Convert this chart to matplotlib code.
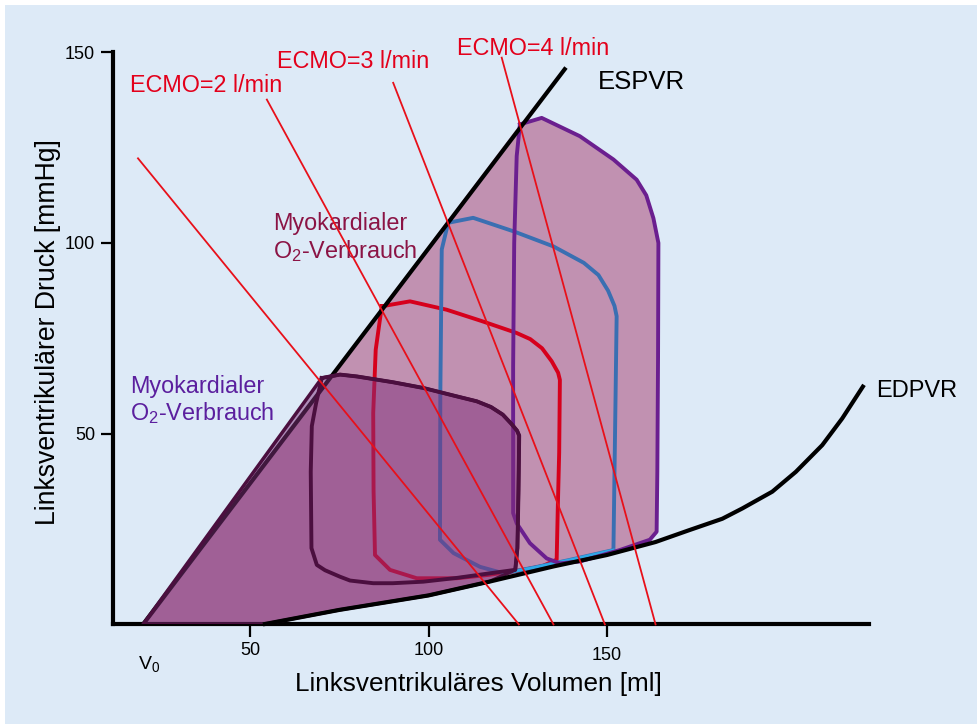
import numpy as np
import matplotlib
matplotlib.use('Agg')
import matplotlib.pyplot as plt
from matplotlib.patches import Polygon, Rectangle

plt.rcParams['font.family'] = ['Liberation Sans', 'DejaVu Sans']
plt.rcParams['mathtext.fontset'] = 'custom'
plt.rcParams['mathtext.rm'] = 'Liberation Sans'
plt.rcParams['mathtext.it'] = 'Liberation Sans:italic'

# ---------------- data ----------------
v0 = 20
espvr_v = [20, 138.5]
espvr_p = [0, 146]

edpvr_v = [53.6, 75, 100, 117, 135, 150, 163.6, 173, 182.3, 187.9, 196.3, 202.9, 210.3, 215.9, 222]
edpvr_p = [0, 3.8, 7.6, 11.2, 15.2, 18.2, 21.6, 24.7, 27.7, 30.4, 34.8, 40, 47, 54, 62.8]

dark_v = [70.1, 75.2, 80, 90, 98.5, 107, 113.5, 117.5, 120.8, 123.2, 124.8, 125.4, 125.2, 124.9, 124.3,
          117.2, 108, 98.5, 90, 84.5, 78, 75.2, 71, 68.7, 67.2, 67, 67.3, 68.5, 70.1]
dark_p = [64.6, 65.5, 65, 63.5, 62, 60, 58.5, 57.0, 55.0, 52.6, 50.8, 49.5, 35, 20, 14.3,
          13.4, 12.2, 11.2, 10.8, 10.8, 11.5, 12.5, 14.2, 15.6, 20, 40, 52, 58, 64.6]

red_v = [86.9, 94.8, 105.1, 115, 124.7, 128.5, 131.8, 134.5, 136.3, 136.8, 136.6, 136.2, 135.9, 132, 126.6,
         117, 107.9, 96.7, 89.2, 85, 84.6, 84.5, 85.2, 86.9]
red_p = [83.4, 84.7, 82.5, 79.5, 76.4, 74.8, 72.4, 69.0, 66.0, 64.1, 45, 30, 17, 15.3, 14.3,
         13, 12.1, 12.1, 14.3, 18.2, 35, 55.4, 72, 83.4]

blue_v = [105.5, 112.5, 124, 135, 143.5, 147.6, 150.3, 152.1, 152.7, 152.4, 152.1, 151.8, 140, 130, 121,
          114.4, 107, 103.2, 103.3, 103.7, 105.5]
blue_p = [105.3, 106.6, 103, 99.1, 94.8, 91.6, 87.5, 83.5, 80.8, 60, 40, 19.5, 17, 15, 13.4,
          15.1, 18.7, 22.2, 60, 98.3, 105.3]

purple_v = [125.6, 131.7, 142.4, 151.8, 158.3, 161.0, 163.0, 164.4, 164.3, 164.1, 163.9, 162, 153.6,
            142.4, 136.8, 133.1, 128.4, 124.7, 123.7, 123.7, 124.0, 124.7, 125.6]
purple_p = [131.1, 132.8, 128, 121.9, 116.6, 112.5, 106.5, 100, 70, 40, 24.3, 22.2, 19.5,
            16.5, 16, 17.3, 21.3, 26.5, 29.2, 67.6, 100, 122.8, 131.1]
purple_corner_end = 11  # index where the loop meets the EDPVR

ecmo_top_v = [18.6, 54.7, 90.1, 120.5]
ecmo_top_p = [122.2, 137.6, 142, 148.6]
ecmo_bottom_v = [125.3, 135, 149.4, 163.6]

ecmo_labels = ["ECMO=2 l/min", "ECMO=3 l/min", "ECMO=4 l/min"]
ecmo_label_v = [16.4, 57.6, 108]
ecmo_label_p = [139.6, 146, 149.4]

xticks = [50, 100, 150]
yticks = [50, 100, 150]

# ---------------- figure ----------------
W, H = 978, 724
fig = plt.figure(figsize=(W / 100, H / 100), dpi=100, facecolor='white')
bg = Rectangle((5 / W, 0), 1, 1 - 5 / H, transform=fig.transFigure,
               facecolor='#ddeaf7', edgecolor='none', zorder=-10)
fig.patches.append(bg)
ax = fig.add_axes([113 / W, 1 - 624.4 / H, (869 - 113) / W, (624.4 - 52.3) / H])
ax.set_zorder(1)
ax.set_facecolor('none')
ax.set_xlim(11.6, 223.4)
ax.set_ylim(0, 150)

# light fill (PVA of largest loop)
ed_v = np.array(edpvr_v)
ed_p = np.array(edpvr_p)
k = purple_corner_end
light_pts = [(v0, 0)] + list(zip(purple_v[:k + 1], purple_p[:k + 1]))
mask = ed_v < purple_v[k]
light_pts += list(zip(ed_v[mask][::-1], ed_p[mask][::-1]))
ax.add_patch(Polygon(light_pts, closed=True, facecolor='#c191b1', edgecolor='none', zorder=1))

# ESPVR line
ax.plot(espvr_v, espvr_p, color='black', lw=3, zorder=2.5, solid_capstyle='butt')

# loops
ax.plot(red_v, red_p, color='#d6001c', lw=2.8, zorder=2, solid_joinstyle='round')
ax.plot(blue_v, blue_p, color='#3a6fb2', lw=2.8, zorder=2, solid_joinstyle='round')
ax.plot(blue_v[11:15], blue_p[11:15], color='#2fa8e6', lw=2.0, zorder=2.1)
ax.plot(purple_v, purple_p, color='#6b1f8f', lw=2.8, zorder=2.2, solid_joinstyle='round')

# dark fill (PVA of smallest loop)
dark_pts = [(v0, 0)] + list(zip(dark_v[:15], dark_p[:15]))
mask = ed_v < dark_v[14]
dark_pts += list(zip(ed_v[mask][::-1], ed_p[mask][::-1]))
ax.add_patch(Polygon(dark_pts, closed=True, facecolor=(0.50, 0.19, 0.49, 0.5),
                     edgecolor='#4b0f3f', lw=2.5, zorder=3, joinstyle='round'))
ax.plot(dark_v, dark_p, color='#4b0f3f', lw=2.8, zorder=4, solid_joinstyle='round')

# EDPVR
ax.plot(edpvr_v, edpvr_p, color='black', lw=3, zorder=4, solid_capstyle='butt',
        solid_joinstyle='round', clip_on=False)

# ECMO lines
for tv, tp, bv in zip(ecmo_top_v, ecmo_top_p, ecmo_bottom_v):
    ax.plot([tv, bv], [tp, 0], color='#e8101a', lw=1.3, zorder=5, clip_on=False)

# labels
for lab, lv, lp in zip(ecmo_labels, ecmo_label_v, ecmo_label_p):
    ax.text(lv, lp, lab, color='#e3001b', fontsize=16.8, ha='left', va='baseline', clip_on=False)
ax.text(147.5, 140.4, "ESPVR", color='black', fontsize=18.5, ha='left', va='baseline')
ax.text(225.3, 59.7, "EDPVR", color='black', fontsize=17, ha='left', va='baseline', clip_on=False)
ax.text(56.4, 103.5, "Myokardialer", color='#8b1445', fontsize=16.8, ha='left', va='baseline')
ax.text(56.4, 96.1, r"O$_\mathrm{2}$-Verbrauch", color='#8b1445', fontsize=16.8, ha='left', va='baseline')
ax.text(16.4, 60.8, "Myokardialer", color='#5b1f9e', fontsize=16.8, ha='left', va='baseline')
ax.text(16.4, 53.6, r"O$_\mathrm{2}$-Verbrauch", color='#5b1f9e', fontsize=16.8, ha='left', va='baseline')
ax.text(18.6, -11.6, r"V$_\mathrm{0}$", color='black', fontsize=14, ha='left', va='baseline', clip_on=False)

# axes styling
for s in ['top', 'right']:
    ax.spines[s].set_visible(False)
for s in ['left', 'bottom']:
    ax.spines[s].set_linewidth(3)
    ax.spines[s].set_capstyle('projecting')
ax.set_xticks(xticks)
ax.set_yticks(yticks)
ax.tick_params(axis='both', length=9, width=1.6, direction='out', labelsize=13, pad=4)
ax.xaxis.get_major_ticks()[2].set_pad(7)

fig.text(478 / W, 1 - 684 / H, "Linksventrikuläres Volumen [ml]", fontsize=18.8,
         ha='center', va='center')
fig.text(48 / W, 1 - 332.5 / H, "Linksventrikulärer Druck [mmHg]", fontsize=19.2,
         ha='center', va='center', rotation=90)

fig.savefig('out.png', dpi=100, facecolor=fig.get_facecolor())
